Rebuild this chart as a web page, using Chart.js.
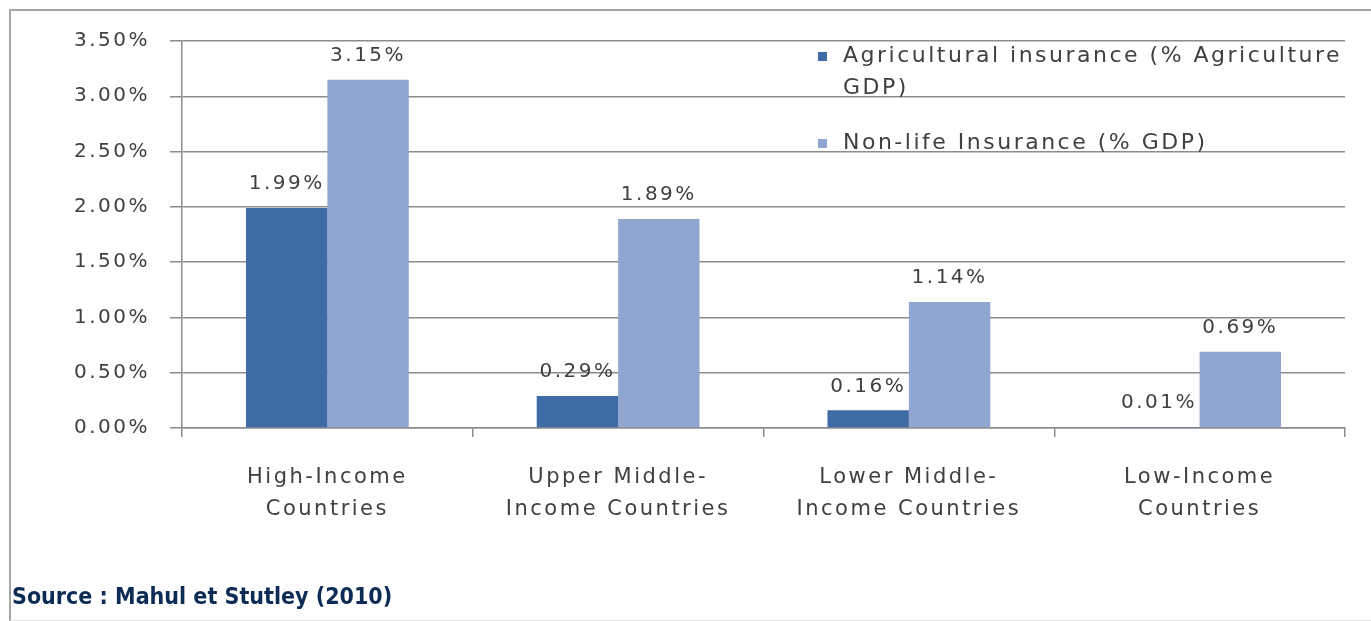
<!DOCTYPE html>
<html>
<head>
<meta charset="utf-8">
<script src="https://cdn.jsdelivr.net/npm/chart.js@4.4.1/dist/chart.umd.min.js"></script>
<style>
  html, body { margin: 0; padding: 0; background: #fff; }
  #wrap { position: relative; width: 1371px; height: 621px; overflow: hidden; }
  #frame {
    position: absolute; left: 9px; top: 9px; width: 1400px; height: 609px;
    border-left: 2px solid #a6a6a6; border-top: 2px solid #a6a6a6; border-bottom: 1px solid #e2e2e2;
  }
  #source {
    position: absolute; left: 12px; top: 583px;
    font-family: "DejaVu Sans Condensed", "DejaVu Sans", sans-serif; font-weight: bold;
    font-size: 23px; color: #0c2b55;
  }
  canvas { position: absolute; left: 0; top: 0; }
</style>
</head>
<body>
<div id="wrap">
  <div id="frame"></div>
  <canvas id="chart" width="1371" height="621"></canvas>
  <div id="source">Source : Mahul et Stutley (2010)</div>
</div>
<script>
// Chart data
const categories = [
  ["High-Income", "Countries"],
  ["Upper Middle-", "Income Countries"],
  ["Lower Middle-", "Income Countries"],
  ["Low-Income", "Countries"]
];
const agriLabel = "Agricultural insurance (% Agriculture GDP)";
const agriValues = [1.99, 0.29, 0.16, 0.01];
const nonLifeLabel = "Non-life Insurance (% GDP)";
const nonLifeValues = [3.15, 1.89, 1.14, 0.69];

const textColor = "#404040";
const gridColor = "#8c8c8c";
const fontFamily = "'DejaVu Sans', sans-serif";

// the source picture has wide lettering, widen canvas text a bit
const wideText = {
  id: "wideText",
  beforeDraw(chart) { chart.ctx.letterSpacing = "2.5px"; }
};

// Value labels above each bar
const barLabels = {
  id: "barLabels",
  afterDatasetsDraw(chart) {
    const ctx = chart.ctx;
    ctx.save();
    ctx.font = "20px " + fontFamily;
    ctx.fillStyle = textColor;
    ctx.textAlign = "center";
    ctx.textBaseline = "middle";
    chart.data.datasets.forEach((ds, i) => {
      chart.getDatasetMeta(i).data.forEach((bar, j) => {
        ctx.fillText(ds.data[j].toFixed(2) + "%", bar.x, bar.y - 24);
      });
    });
    ctx.restore();
  }
};

// Legend drawn inside the plot, top right
const innerLegend = {
  id: "innerLegend",
  afterDraw(chart) {
    const ctx = chart.ctx;
    ctx.save();
    ctx.font = "22px " + fontFamily;
    ctx.textBaseline = "middle";
    const items = [
      { color: chart.data.datasets[0].backgroundColor, lines: ["Agricultural insurance (% Agriculture", "GDP)"], y: 56 },
      { color: chart.data.datasets[1].backgroundColor, lines: ["Non-life Insurance (% GDP)"], y: 143 }
    ];
    items.forEach(item => {
      ctx.fillStyle = item.color;
      ctx.fillRect(818, item.y - 4, 9, 9);
      ctx.fillStyle = textColor;
      item.lines.forEach((line, k) => ctx.fillText(line, 843, item.y + k * 32));
    });
    ctx.restore();
  }
};

new Chart(document.getElementById("chart").getContext("2d"), {
  type: "bar",
  data: {
    labels: categories,
    datasets: [
      { label: agriLabel, data: agriValues, backgroundColor: "#3f6ca6" },
      { label: nonLifeLabel, data: nonLifeValues, backgroundColor: "#8fa6d0" }
    ]
  },
  options: {
    responsive: false,
    animation: false,
    devicePixelRatio: 1,
    layout: { padding: { top: 41, right: 26, left: 0, bottom: 0 } },
    categoryPercentage: 0.56,
    barPercentage: 1,
    plugins: {
      legend: { display: false },
      tooltip: { enabled: false }
    },
    scales: {
      x: {
        grid: { drawOnChartArea: false, color: gridColor, tickLength: 9, lineWidth: 1.5 },
        border: { color: gridColor, width: 1.5 },
        ticks: {
          color: textColor, padding: 25,
          font: { family: fontFamily, size: 21, lineHeight: 1.5 },
          maxRotation: 0, autoSkip: false
        },
        afterFit(scale) { scale.height = 193; }
      },
      y: {
        min: 0, max: 3.5,
        grid: { color: gridColor, tickLength: 12, lineWidth: 1.5 },
        border: { color: gridColor, width: 1.5 },
        ticks: {
          stepSize: 0.5, color: textColor, padding: 20,
          font: { family: fontFamily, size: 20 },
          callback: v => v.toFixed(2) + "%"
        },
        afterFit(scale) { scale.width = 182; }
      }
    }
  },
  plugins: [wideText, barLabels, innerLegend]
});
</script>
</body>
</html>
